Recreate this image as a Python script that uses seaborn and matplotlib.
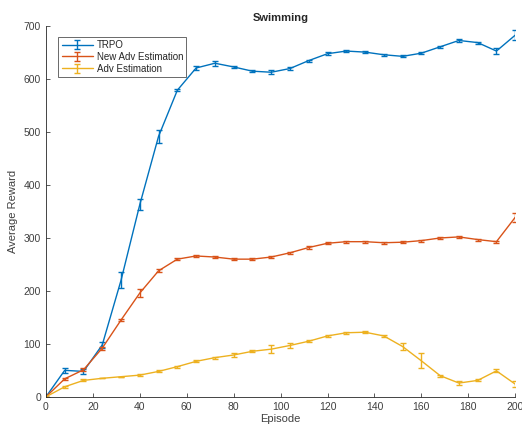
import numpy as np
import pandas as pd
import matplotlib
matplotlib.use("Agg")
import matplotlib.pyplot as plt
import seaborn as sns

# Dados (episódios a cada 8)
episodios = list(range(0, 201, 8))

trpo = [0, 50, 48, 98, 220, 363, 492, 579, 621, 630, 623, 615, 613, 620, 635, 648,
        653, 651, 646, 643, 649, 661, 673, 669, 653, 683]
trpo_err = [0, 5, 4, 5, 15, 11, 12, 2, 3, 5, 2, 2, 4, 2, 2, 3,
            2, 2, 2, 2, 2, 2, 2, 2, 5, 9]

nova_adv = [0, 34, 51, 92, 145, 196, 238, 260, 266, 264, 260, 260, 264, 272, 282, 290,
            293, 293, 291, 292, 295, 300, 302, 297, 293, 339]
nova_adv_err = [0, 2, 3, 3, 2, 8, 3, 2, 2, 2, 2, 2, 2, 2, 2, 2,
                2, 2, 2, 2, 2, 2, 2, 2, 2, 8]

adv = [0, 19, 31, 35, 38, 41, 48, 57, 67, 74, 79, 86, 90, 97, 105, 115,
       121, 122, 115, 95, 68, 40, 26, 31, 49, 24]
adv_err = [0, 2, 2, 0, 0, 2, 2, 2, 2, 2, 3, 2, 8, 4, 2, 2,
           2, 2, 2, 7, 14, 2, 3, 2, 3, 5]

series = [
    ("TRPO", trpo, trpo_err, "#0072BD"),
    ("New Adv Estimation", nova_adv, nova_adv_err, "#D95319"),
    ("Adv Estimation", adv, adv_err, "#EDB120"),
]

sns.set_style("ticks")
plt.rcParams["font.family"] = ["Liberation Sans", "DejaVu Sans"]

fig = plt.figure(figsize=(5.22, 4.29), dpi=100)
ax = fig.add_axes([0.088, 0.075, 0.899, 0.864])

handles = []
for nome, valores, erros, cor in series:
    df = pd.DataFrame({"Episode": episodios, "Reward": valores})
    sns.lineplot(data=df, x="Episode", y="Reward", color=cor, linewidth=1.0, ax=ax, legend=False)
    linha = ax.lines[-1]
    eb = ax.errorbar(episodios, valores, yerr=erros, fmt="none", ecolor=cor,
                     elinewidth=1.0, capsize=2.5, capthick=1.0)
    handles.append(((linha, eb), nome))

ax.set_xlim(0, 200)
ax.set_ylim(0, 700)
ax.set_xticks(range(0, 201, 20))
ax.set_yticks(range(0, 701, 100))
ax.tick_params(direction="in", length=3, labelsize=7.5, colors="#404040", width=0.6)
for lado in ["left", "bottom"]:
    ax.spines[lado].set_linewidth(0.6)
    ax.spines[lado].set_color("#262626")
sns.despine(ax=ax)

ax.set_xlabel("Episode", fontsize=8, color="#404040", labelpad=2)
ax.set_ylabel("Average Reward", fontsize=8, color="#404040", labelpad=4)
ax.set_title("Swimming", fontsize=8, fontweight="bold", pad=4)

leg = ax.legend([h for h, _ in handles], [n for _, n in handles], loc="upper left",
                bbox_to_anchor=(0.026, 0.972), borderaxespad=0, fontsize=7, frameon=True,
                fancybox=False, handlelength=3.2, borderpad=0.35, labelspacing=0.2,
                handletextpad=0.4)
leg.get_frame().set_edgecolor("#262626")
leg.get_frame().set_linewidth(0.6)

fig.savefig("out.png", dpi=100)
